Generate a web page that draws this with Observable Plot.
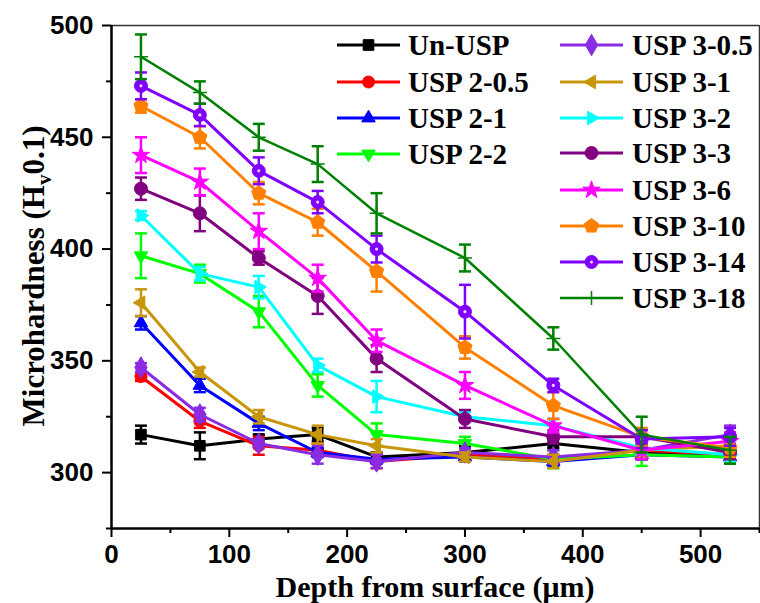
<!DOCTYPE html>
<html>
<head>
<meta charset="utf-8">
<script src="https://cdn.jsdelivr.net/npm/d3@7"></script>
<script src="https://cdn.jsdelivr.net/npm/@observablehq/plot@0.6"></script>
<style>
  html, body { margin: 0; padding: 0; background: #fff; }
  #chart { position: relative; width: 760px; height: 603px; }
</style>
</head>
<body>
<div id="chart"></div>
<script>
// ---- data ----
const depths = [25, 75, 125, 175, 225, 300, 375, 450, 525];
const seriesNames = ["Un-USP", "USP 2-0.5", "USP 2-1", "USP 2-2", "USP 3-0.5", "USP 3-1",
  "USP 3-2", "USP 3-3", "USP 3-6", "USP 3-10", "USP 3-14", "USP 3-18"];
const seriesColors = ["#000000", "#FF0000", "#0000FF", "#00FF00", "#8B2BE2", "#C8960A",
  "#00FFFF", "#800080", "#FF00FF", "#FF8000", "#8000FF", "#008000"];

const unUSP   = [317, 312, 315, 317, 307, 309, 313, 309, 308];
const usp2_05 = [343, 323, 312, 310, 305, 308, 306, 310, 308];
const usp2_1  = [367, 339, 322, 309, 306, 307, 305, 308, 307];
const usp2_2  = [397, 389, 372, 339, 317, 313, 306, 308, 307];
const usp3_05 = [347, 326, 313, 308, 305, 309, 307, 310, 317];
const usp3_1  = [376, 345, 325, 317, 312, 307, 305, 310, 312];
const usp3_2  = [415, 389, 383, 348, 334, 325, 321, 311, 308];
const usp3_3  = [427, 416, 396, 379, 351, 324, 316, 316, 309];
const usp3_6  = [442, 430, 408, 387, 359, 339, 321, 310, 314];
const usp3_10 = [464, 450, 425, 412, 390, 356, 330, 316, 311];
const usp3_14 = [473, 460, 435, 421, 400, 372, 339, 315, 316];
const usp3_18 = [486, 470, 450, 438, 416, 396, 360, 317, 310];

const errUnUSP   = [4, 6, 2, 3, 2, 3, 2, 3, 2];
const err2_05    = [2, 3, 4, 3, 3, 2, 2, 3, 3];
const err2_1     = [3, 3, 3, 2, 2, 2, 2, 2, 2];
const err2_2     = [10, 4, 7, 5, 5, 3, 4, 5, 3];
const err3_05    = [2, 3, 2, 4, 3, 2, 3, 3, 4];
const err3_1     = [6, 2, 3, 4, 3, 2, 3, 3, 3];
const err3_2     = [2, 3, 5, 3, 7, 2, 3, 3, 3];
const err3_3     = [5, 8, 3, 8, 6, 4, 3, 3, 3];
const err3_6     = [8, 6, 8, 6, 5, 6, 3, 4, 4];
const err3_10    = [3, 5, 5, 6, 9, 5, 6, 4, 4];
const err3_14    = [6, 5, 6, 5, 6, 12, 3, 4, 4];
const err3_18    = [10, 5, 6, 8, 9, 6, 5, 8, 6];

const xTicks = [0, 100, 200, 300, 400, 500];
const yTicks = [300, 350, 400, 450, 500];

// ---- custom symbols ----
const rOf = size => Math.sqrt(size / Math.PI);
const triDown = { draw(c, s) { const r = rOf(s) * 1.3; c.moveTo(0, r); c.lineTo(r * 0.866, -r * 0.5); c.lineTo(-r * 0.866, -r * 0.5); c.closePath(); } };
const triUp = { draw(c, s) { const r = rOf(s) * 1.3; c.moveTo(0, -r); c.lineTo(r * 0.866, r * 0.5); c.lineTo(-r * 0.866, r * 0.5); c.closePath(); } };
const triLeft = { draw(c, s) { const r = rOf(s) * 1.3; c.moveTo(-r, 0); c.lineTo(r * 0.5, -r * 0.866); c.lineTo(r * 0.5, r * 0.866); c.closePath(); } };
const triRight = { draw(c, s) { const r = rOf(s) * 1.3; c.moveTo(r, 0); c.lineTo(-r * 0.5, -r * 0.866); c.lineTo(-r * 0.5, r * 0.866); c.closePath(); } };
const pentagon = { draw(c, s) { const r = rOf(s) * 1.15; for (let k = 0; k < 5; k++) { const a = -Math.PI / 2 + k * 2 * Math.PI / 5; const px = r * Math.cos(a), py = r * Math.sin(a); if (k === 0) c.moveTo(px, py); else c.lineTo(px, py); } c.closePath(); } };
const capSym = { draw(c, s) { const w = rOf(s); c.moveTo(-w, 0); c.lineTo(w, 0); } };
const plusThin = { draw(c, s) { const r = rOf(s); c.moveTo(-r, 0); c.lineTo(r, 0); c.moveTo(0, -r); c.lineTo(0, r); } };

const seriesValues = [unUSP, usp2_05, usp2_1, usp2_2, usp3_05, usp3_1, usp3_2, usp3_3, usp3_6, usp3_10, usp3_14, usp3_18];
const seriesErrors = [errUnUSP, err2_05, err2_1, err2_2, err3_05, err3_1, err3_2, err3_3, err3_6, err3_10, err3_14, err3_18];
const seriesSymbols = ["square", "circle", triUp, triDown, "diamond", triLeft, triRight, "circle", "star", pentagon, "circle", plusThin];
const seriesR = [6, 6, 6, 6, 6.5, 6, 6, 6.5, 5.5, 6.5, 6.5, 7];

const series = seriesNames.map((name, i) => ({
  name, color: seriesColors[i], symbol: seriesSymbols[i], r: seriesR[i],
  rows: depths.map((d, j) => ({ depth: d, v: seriesValues[i][j], e: seriesErrors[i][j] }))
}));

// ---- marks ----
const marks = [];
series.forEach(s => {
  const lw = s.name === "USP 3-18" ? 2.5 : 3;
  marks.push(Plot.ruleX(s.rows, { x: "depth", y1: d => d.v - d.e, y2: d => d.v + d.e, stroke: s.color, strokeWidth: 2.5 }));
  marks.push(Plot.dot(s.rows, { x: "depth", y: d => d.v - d.e, symbol: capSym, r: 6, stroke: s.color, fill: "none", strokeWidth: 2.5 }));
  marks.push(Plot.dot(s.rows, { x: "depth", y: d => d.v + d.e, symbol: capSym, r: 6, stroke: s.color, fill: "none", strokeWidth: 2.5 }));
  marks.push(Plot.line(s.rows, { x: "depth", y: "v", stroke: s.color, strokeWidth: lw }));
  if (s.symbol === plusThin) {
    marks.push(Plot.dot(s.rows, { x: "depth", y: "v", symbol: s.symbol, r: s.r, stroke: s.color, fill: "none", strokeWidth: 1.5 }));
  } else {
    marks.push(Plot.dot(s.rows, { x: "depth", y: "v", symbol: s.symbol, r: s.r, fill: s.color, stroke: s.color, strokeWidth: 1 }));
    if (s.name === "USP 3-14") {
      marks.push(Plot.dot(s.rows, { x: "depth", y: "v", r: 1.6, fill: "#e8d0ff", stroke: "none" }));
    }
  }
});

const axisFont = { fontSize: 26, fontWeight: "bold", fontFamily: "'Liberation Sans', Arial, sans-serif" };

const plot = Plot.plot({
  width: 760,
  height: 603,
  marginLeft: 111,
  marginRight: 1,
  marginTop: 25,
  marginBottom: 75,
  style: { background: "#fff", color: "#000", fontFamily: "'Liberation Sans', Arial, sans-serif" },
  x: { domain: [0, 550], label: null },
  y: { domain: [275, 500], label: null },
  marks: [
    Plot.ruleY([500], { stroke: "#333", strokeWidth: 1.5 }),
    Plot.ruleX([550], { stroke: "#333", strokeWidth: 1.5 }),
    ...marks,
    Plot.axisX({ ticks: d3.range(50, 551, 100), tickSize: 5, tickFormat: () => "", strokeWidth: 2, label: null }),
    Plot.axisY({ ticks: d3.range(275, 500, 50), tickSize: 5, tickFormat: () => "", strokeWidth: 2, label: null }),
    Plot.axisX({ ticks: xTicks, tickSize: 9, tickPadding: 7, tickFormat: d => String(d), strokeWidth: 2, label: null, ...axisFont }),
    Plot.axisY({ ticks: yTicks, tickSize: 9, tickPadding: 9, tickFormat: d => String(d), strokeWidth: 2, label: null, ...axisFont }),
    Plot.ruleX([0], { stroke: "#000", strokeWidth: 2.5 }),
    Plot.ruleY([275], { stroke: "#000", strokeWidth: 2.5 })
  ]
});

document.getElementById("chart").appendChild(plot);

// ---- titles & legend (overlay inside the same SVG) ----
const svg = d3.select(plot);
const serif = "'Liberation Serif', 'Times New Roman', serif";

const yt = svg.append("text")
  .attr("transform", "translate(44,276) rotate(-90)")
  .attr("text-anchor", "middle")
  .attr("font-family", serif).attr("font-weight", "bold").attr("font-size", 31)
  .attr("fill", "#000");
yt.append("tspan").text("Microhardness (H");
yt.append("tspan").attr("font-size", 21).attr("dy", 7).text("v");
yt.append("tspan").attr("dy", -7).text("0.1)");

svg.append("text")
  .attr("x", 435).attr("y", 597)
  .attr("text-anchor", "middle")
  .attr("font-family", serif).attr("font-weight", "bold").attr("font-size", 30)
  .attr("fill", "#000")
  .text("Depth from surface (μm)");

const legendCol1 = { x1: 337, x2: 400, xt: 408, rows: [45, 82, 118, 154] };
const legendCol2 = { x1: 560, x2: 623, xt: 632, rows: [45, 82, 118, 153, 190, 226, 262, 298] };
const lg = svg.append("g").attr("text-anchor", "start");
series.forEach((s, i) => {
  const col = i < 4 ? legendCol1 : legendCol2;
  const yy = i < 4 ? col.rows[i] : col.rows[i - 4];
  const xm = (col.x1 + col.x2) / 2;
  lg.append("line").attr("x1", col.x1).attr("x2", col.x2).attr("y1", yy).attr("y2", yy)
    .attr("stroke", s.color).attr("stroke-width", s.name === "USP 3-18" ? 2.5 : 3);
  const sym = typeof s.symbol === "string" ? { square: d3.symbolSquare, circle: d3.symbolCircle, diamond: d3.symbolDiamond, star: d3.symbolStar }[s.symbol] : s.symbol;
  const p = lg.append("path").attr("transform", `translate(${xm},${yy})`)
    .attr("d", d3.symbol(sym, s.r * s.r * Math.PI)());
  if (s.symbol === plusThin) p.attr("fill", "none").attr("stroke", s.color).attr("stroke-width", 1.5);
  else p.attr("fill", s.color).attr("stroke", s.color);
  if (s.name === "USP 3-14") lg.append("circle").attr("cx", xm).attr("cy", yy).attr("r", 1.6).attr("fill", "#e8d0ff");
  lg.append("text").attr("x", col.xt).attr("y", yy + 10)
    .attr("text-anchor", "start")
    .attr("font-family", serif).attr("font-weight", "bold").attr("font-size", 29)
    .attr("fill", "#000").text(s.name);
});
</script>
</body>
</html>
